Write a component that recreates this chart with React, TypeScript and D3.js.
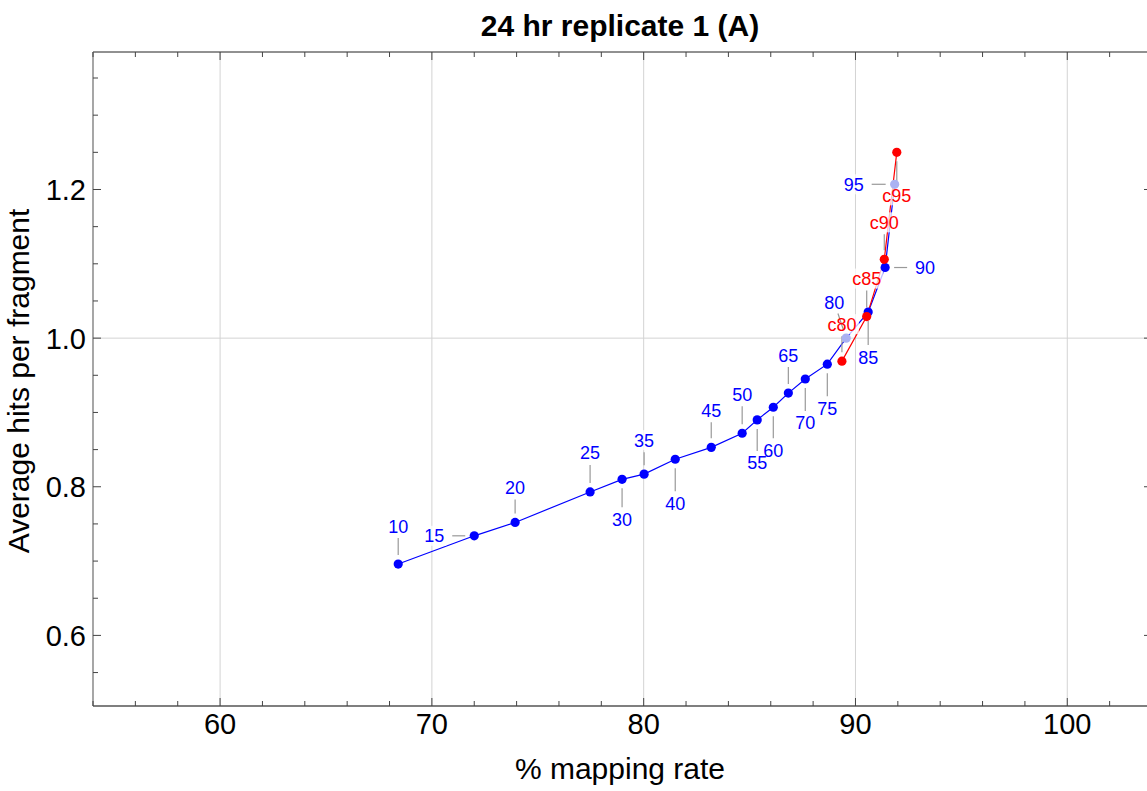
import * as d3 from "d3";

// blue series: sampled cutoffs 10..95
const blueLabels = ["10", "15", "20", "25", "30", "35", "40", "45", "50", "55", "60", "65", "70", "75", "80", "85", "90", "95"];
const blueX = [68.41, 72.0, 73.93, 77.47, 78.98, 80.02, 81.49, 83.19, 84.65, 85.36, 86.12, 86.83, 87.63, 88.67, 89.56, 90.6, 91.4, 91.85];
const blueY = [0.696, 0.734, 0.752, 0.793, 0.81, 0.817, 0.837, 0.853, 0.872, 0.89, 0.907, 0.926, 0.945, 0.965, 1.0, 1.035, 1.095, 1.207];

// red series: c-cutoffs
const redLabels = ["c80", "c85", "c90", "c95"];
const redX = [89.36, 90.53, 91.36, 91.95];
const redY = [0.969, 1.029, 1.106, 1.25];

const xTicks = [60, 70, 80, 90, 100];
const yTicks = [0.6, 0.8, 1.0, 1.2];

// where each callout sits relative to its point (pixels)
const blueOffsets: [number, number][] = [
  [0, -38], [-40, 0], [0, -35], [0, -39], [0, 40], [0, -34], [0, 44], [0, -37], [0, -39],
  [0, 43], [0, 43], [0, -38], [0, 44], [0, 44], [-12, -36], [0, 45], [40, 0], [-41, 0],
];
const redOffsets: [number, number][] = [[0, -37], [0, -38], [0, -37], [0, 43]];
const fadedBlue = ["80", "95"];

const W = 1147;
const H = 791;
const left = 93;
const right = 1152;
const top = 52;
const bottom = 706;

const font = "'Liberation Sans', Arial, Helvetica, sans-serif";

type Pt = { label: string; x: number; y: number; off: [number, number]; color: string };

export default function App() {
  const x = d3.scaleLinear().domain([54, 104]).range([left, right]);
  const y = d3.scaleLinear().domain([0.505, 1.385]).range([bottom, top]);

  const blue: Pt[] = blueLabels.map((l, i) => ({ label: l, x: blueX[i], y: blueY[i], off: blueOffsets[i], color: "#0000ff" }));
  const red: Pt[] = redLabels.map((l, i) => ({ label: l, x: redX[i], y: redY[i], off: redOffsets[i], color: "#ff0000" }));
  const all = [...blue, ...red];

  const line = d3
    .line<Pt>()
    .x((d) => x(d.x))
    .y((d) => y(d.y));

  const xMinor = d3.range(54, 105, 2).filter((v) => v % 10 !== 0);
  const yMinor = d3.range(11, 28).map((v) => v * 0.05).filter((v) => Math.round(v * 20) % 4 !== 0);

  const leader = (d: Pt) => {
    const px = x(d.x);
    const py = y(d.y);
    const [dx, dy] = d.off;
    const len = Math.hypot(dx, dy);
    const ux = dx / len;
    const uy = dy / len;
    const k = Math.abs(dx) > Math.abs(dy) ? 18 : 12;
    return { x1: px + ux * 9, y1: py + uy * 9, x2: px + dx - ux * k, y2: py + dy - uy * k };
  };

  return (
    <svg width={W} height={H} style={{ position: "absolute", left: 0, top: 0, background: "#fff" }}>
      <text x={(left + 1147) / 2} y={36} textAnchor="middle" fontFamily={font} fontWeight="bold" fontSize={30}>
        24 hr replicate 1 (A)
      </text>

      {/* grid */}
      {xTicks.map((t) => (
        <line key={"gx" + t} x1={x(t)} x2={x(t)} y1={top} y2={bottom} stroke="#d3d3d3" strokeWidth={1} />
      ))}
      <line x1={left} x2={right} y1={y(1.0)} y2={y(1.0)} stroke="#d3d3d3" strokeWidth={1} />

      {/* frame */}
      <line x1={left} x2={right} y1={top} y2={top} stroke="#222" strokeWidth={1} />
      <line x1={right} x2={right} y1={top} y2={bottom} stroke="#222" strokeWidth={1} />
      <line x1={left} x2={left} y1={top} y2={bottom} stroke="#777" strokeWidth={1.3} />
      <line x1={left} x2={right} y1={bottom} y2={bottom} stroke="#555" strokeWidth={1.3} />

      {/* ticks */}
      {xTicks.map((t) => (
        <g key={"xt" + t}>
          <line x1={x(t)} x2={x(t)} y1={bottom} y2={bottom - 8} stroke="#444" />
          <line x1={x(t)} x2={x(t)} y1={top} y2={top + 8} stroke="#444" />
          <text x={x(t)} y={bottom + 28} textAnchor="middle" fontFamily={font} fontSize={29}>
            {t}
          </text>
        </g>
      ))}
      {xMinor.map((t) => (
        <g key={"xm" + t}>
          <line x1={x(t)} x2={x(t)} y1={bottom} y2={bottom - 5} stroke="#444" />
          <line x1={x(t)} x2={x(t)} y1={top} y2={top + 5} stroke="#444" />
        </g>
      ))}
      {yTicks.map((t) => (
        <g key={"yt" + t}>
          <line x1={left} x2={left + 8} y1={y(t)} y2={y(t)} stroke="#444" />
          <line x1={right} x2={right - 8} y1={y(t)} y2={y(t)} stroke="#444" />
          <text x={86} y={y(t)} dy="0.36em" textAnchor="end" fontFamily={font} fontSize={29}>
            {t.toFixed(1)}
          </text>
        </g>
      ))}
      {yMinor.map((t) => (
        <g key={"ym" + t}>
          <line x1={left} x2={left + 5} y1={y(t)} y2={y(t)} stroke="#444" />
          <line x1={right} x2={right - 5} y1={y(t)} y2={y(t)} stroke="#444" />
        </g>
      ))}

      <text x={(left + 1147) / 2} y={779} textAnchor="middle" fontFamily={font} fontSize={30}>
        % mapping rate
      </text>
      <text
        transform={`translate(29,${381}) rotate(-90)`}
        textAnchor="middle"
        fontFamily={font}
        fontSize={30}
      >
        Average hits per fragment
      </text>

      {/* series lines */}
      <path d={line(blue) ?? ""} fill="none" stroke="#0000ff" strokeWidth={1.2} />
      <path d={line(red) ?? ""} fill="none" stroke="#ff0000" strokeWidth={1.2} />

      {/* callout backgrounds */}
      {all.map((d) => {
        const w = d.label.length * 10 + 4;
        return (
          <rect
            key={"bg" + d.label}
            x={x(d.x) + d.off[0] - w / 2}
            y={y(d.y) + d.off[1] - 10}
            width={w}
            height={20}
            fill="#fff"
            opacity={0.75}
          />
        );
      })}
      {all.map((d) => {
        const l = leader(d);
        return <line key={"ld" + d.label} {...l} stroke="#999" strokeWidth={1.2} />;
      })}

      {/* points */}
      {blue.map((d) => (
        <circle
          key={"pb" + d.label}
          cx={x(d.x)}
          cy={y(d.y)}
          r={4.6}
          fill={fadedBlue.includes(d.label) ? "#aab2f2" : "#0000ff"}
        />
      ))}
      {red.map((d) => (
        <circle key={"pr" + d.label} cx={x(d.x)} cy={y(d.y)} r={4.6} fill="#ff0000" />
      ))}

      {/* callout texts */}
      {all.map((d) => (
        <text
          key={"tx" + d.label}
          x={x(d.x) + d.off[0]}
          y={y(d.y) + d.off[1]}
          dy="0.36em"
          textAnchor="middle"
          fontFamily={font}
          fontSize={18}
          fill={d.color}
        >
          {d.label}
        </text>
      ))}
    </svg>
  );
}
